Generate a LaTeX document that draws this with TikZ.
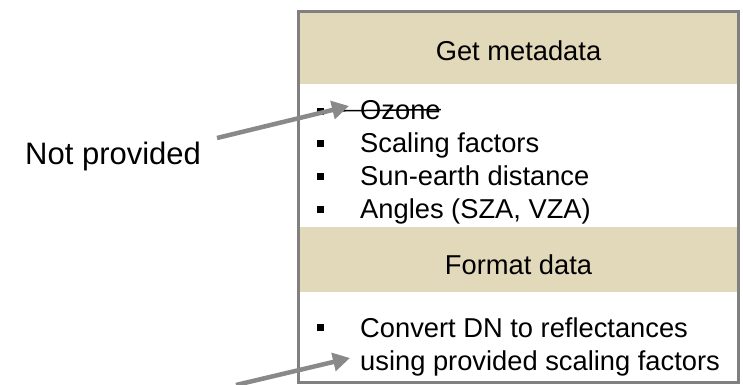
\documentclass[tikz,border=0pt]{standalone}
\usepackage{fontspec}
\setmainfont{Liberation Sans}
\usetikzlibrary{arrows.meta}
\definecolor{bandtan}{RGB}{226,217,186}
\definecolor{framegray}{RGB}{128,128,128}
\definecolor{arrowgray}{RGB}{137,137,137}

\begin{document}
\begin{tikzpicture}[x=1pt, y=-1pt,
  every node/.style={font=\fontsize{27.3}{33}\selectfont, inner sep=0pt},
  band/.style={fill=bandtan},
  title/.style={anchor=base},
  item/.style={anchor=base west},
  dot/.style={fill=black, minimum size=7pt, inner sep=0pt},
  pointer/.style={draw=arrowgray, line width=4.5pt, -{Triangle[length=17pt, width=18pt]}}]

  \useasboundingbox (0,0) rectangle (743,384);

  %% Box with its two headings
  \fill[band] (300,12) rectangle (737,84);
  \fill[band] (300,227) rectangle (737,292);
  \draw[framegray, line width=3pt] (298.5,11) rectangle (738,382.5);

  \node[title] (meta) at (518.5,60) {Get metadata};
  \node[title] (fmt) at (518.5,274) {Format data};

  %% Metadata items
  \node[dot] (b1) at (320,111) {};
  \node[item] (ozone) at (360,119) {Ozone};
  \draw[line width=1.5pt] (b1.east) -- (ozone.east);
  \node[dot] (b2) at (320,143) {};
  \node[item] (scal) at (360,152) {Scaling factors};
  \node[dot] (b3) at (320,176) {};
  \node[item] (sun) at (360,185) {Sun-earth distance};
  \node[dot] (b4) at (320,209) {};
  \node[item] (ang) at (360,218) {Angles (SZA, VZA)};

  %% Format items
  \node[dot] (b5) at (320,327) {};
  \node[item] (conv) at (360,337) {Convert DN to reflectances};
  \node[item] (usng) at (360,370) {using provided scaling factors};

  %% Left: remark and pointers
  \node[anchor=base west, font=\fontsize{31}{37}\selectfont] (notp) at (25,164) {Not provided};
  \coordinate (tail1) at (217,138);
  \coordinate (tip1) at (349,106);
  \draw[pointer] (tail1) -- (tip1);
  \coordinate (tail2) at (236,385);
  \coordinate (tip2) at (350,358);
  \draw[pointer] (tail2) -- (tip2);

\end{tikzpicture}
\end{document}
